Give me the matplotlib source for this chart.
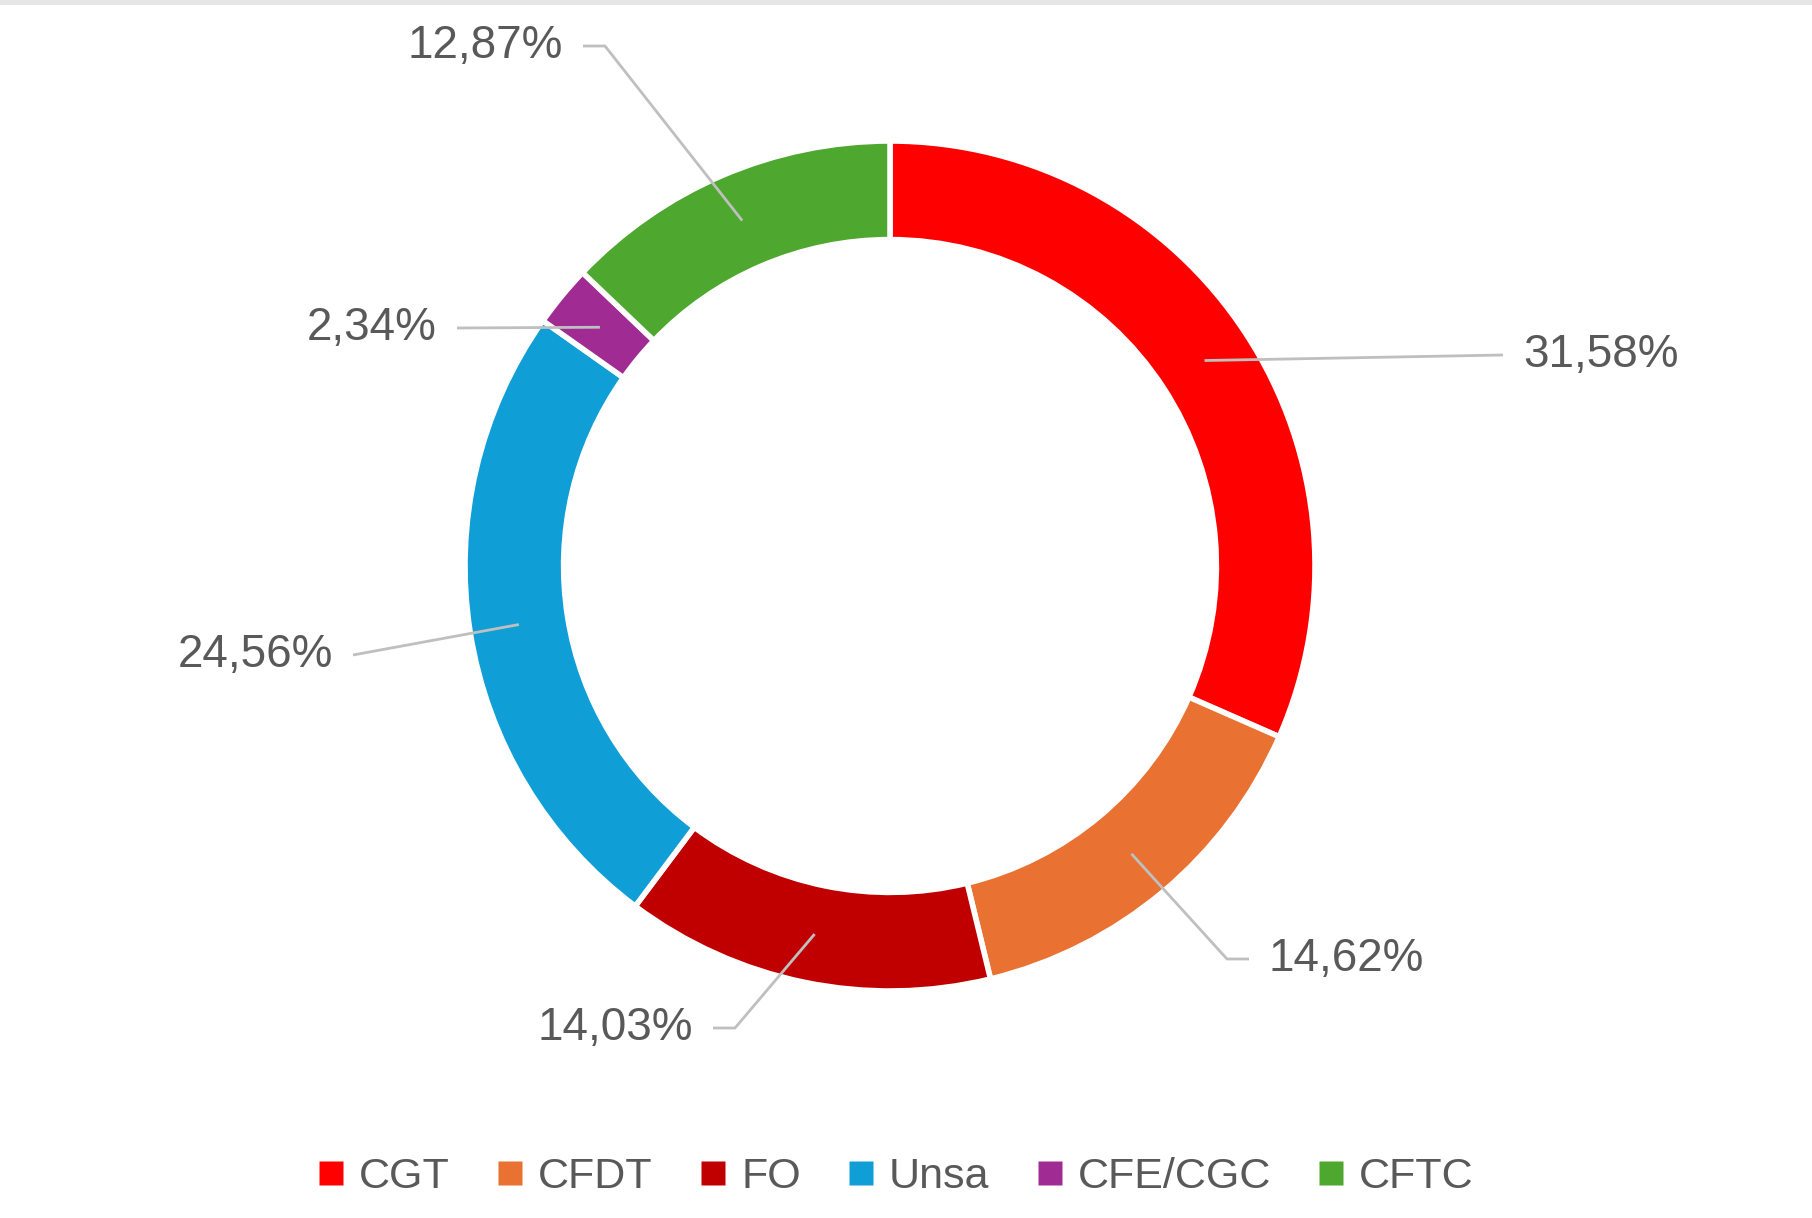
import matplotlib.pyplot as plt
from matplotlib.lines import Line2D
from matplotlib.patches import Rectangle
import numpy as np

plt.rcParams['font.family'] = ['Liberation Sans', 'DejaVu Sans']

# data
unions = ['CGT', 'CFDT', 'FO', 'Unsa', 'CFE/CGC', 'CFTC']
shares = [31.58, 14.62, 14.03, 24.56, 2.34, 12.87]
labels = ['31,58%', '14,62%', '14,03%', '24,56%', '2,34%', '12,87%']
colors = ['#FF0000', '#E97132', '#C00000', '#0F9ED5', '#A02B93', '#4EA72E']

# label layout (pixel coords, y down): text x, text y, alignment, elbow length
label_pos = [(1523, 355, 'left', 0), (1269, 959, 'left', 22),
             (693, 1028, 'right', 22), (333, 655, 'right', 0),
             (437, 328, 'right', 0), (563, 46, 'right', 22)]

W, H = 1812, 1218
cx, cy, R = 890, 566, 425
ring = 0.232
grey = '#595959'
line_col = '#BFBFBF'

fig = plt.figure(figsize=(W / 100, H / 100), dpi=100)
ax = fig.add_axes([0, 0, 1, 1])

# y axis is inverted, so counterclock in data = clockwise on screen
ax.pie(shares, colors=colors, startangle=-90, counterclock=True,
       center=(cx, cy), radius=R,
       wedgeprops=dict(width=R * ring, edgecolor='white', linewidth=4))
ax.set_xlim(0, W)
ax.set_ylim(H, 0)
ax.set_aspect('equal')
ax.axis('off')

# labels with leader lines
cum = np.cumsum([0] + shares[:-1])
r_mid = R * (1 - ring / 2)
for i, s in enumerate(shares):
    ang = np.deg2rad(-90 + (cum[i] + s / 2) * 3.6)
    axp, ayp = cx + r_mid * np.cos(ang), cy + r_mid * np.sin(ang)
    tx, ty, ha, elb = label_pos[i]
    sgn = 1 if ha == 'right' else -1
    end_x = tx + sgn * 20
    xs = [axp, end_x + sgn * elb, end_x] if elb else [axp, end_x]
    ys = [ayp, ty, ty] if elb else [ayp, ty]
    ax.plot(xs, ys, color=line_col, lw=2, solid_capstyle='butt', zorder=3)
    ax.text(tx, ty, labels[i], ha=ha, va='center', fontsize=33, color=grey)

# thin grey band on top
fig.patches.append(Rectangle((0, 1 - 5 / H), 1, 5 / H, transform=fig.transFigure,
                             facecolor='#E6E6E6', edgecolor='none'))

handles = [Line2D([], [], marker='s', linestyle='none', markersize=17,
                  markerfacecolor=c, markeredgecolor='none') for c in colors]
fig.legend(handles, unions, loc='center', ncol=6, frameon=False,
           bbox_to_anchor=(896 / W, 1 - 1177 / H), fontsize=31,
           labelcolor=grey, handlelength=0.6, handletextpad=0.35,
           columnspacing=1.1)

fig.savefig('out.png', dpi=100)
